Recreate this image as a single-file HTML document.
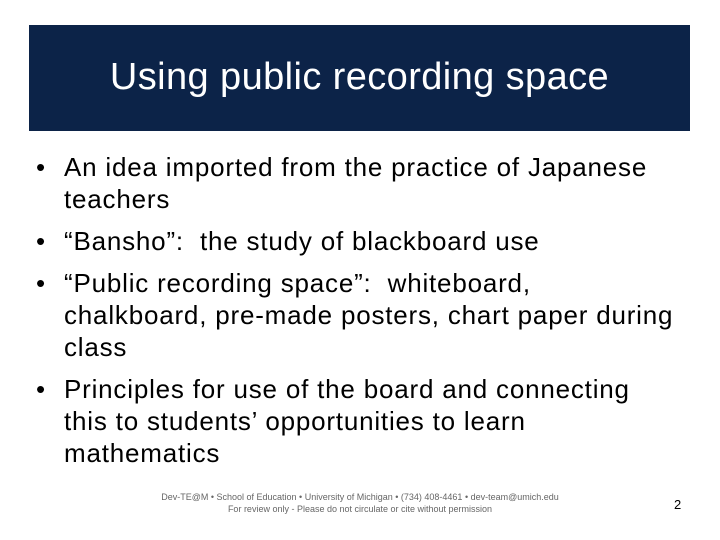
<!DOCTYPE html>
<html><head><meta charset="utf-8"><style>
body{margin:0;width:720px;height:540px;background:#fff;position:relative;overflow:hidden;font-family:"Liberation Sans",sans-serif;}
#bar{position:absolute;left:29px;top:25px;width:661px;height:106px;background:#0c2348;}
#title{position:absolute;left:29px;width:661px;top:54px;text-align:center;color:#fff;font-size:38px;letter-spacing:0.4px;line-height:46px;}
ul{position:absolute;left:36px;top:151px;margin:0;padding:0;list-style:none;width:680px;}
li{position:relative;padding-left:28px;font-size:26px;letter-spacing:0.8px;line-height:32px;margin-bottom:10px;color:#000;white-space:nowrap;}
li:before{content:"•";position:absolute;left:0;top:0;}
.foot{position:absolute;left:0;width:720px;text-align:center;font-size:9px;color:#666;}
#pn{position:absolute;left:674px;top:497px;font-size:13px;}
</style></head><body>
<div id="bar"></div>
<div id="title">Using public recording space</div>
<ul>
<li>An idea imported from the practice of Japanese<br>teachers</li>
<li>“Bansho”:&nbsp; the study of blackboard use</li>
<li>“Public recording space”:&nbsp; whiteboard,<br>chalkboard, pre-made posters, chart paper during<br>class</li>
<li>Principles for use of the board and connecting<br>this to students’ opportunities to learn<br>mathematics</li>
</ul>
<div class="foot" style="top:492px">Dev-TE@M • School of Education • University of Michigan • (734) 408-4461 • dev-team@umich.edu</div>
<div class="foot" style="top:504px">For review only - Please do not circulate or cite without permission</div>
<div id="pn">2</div>
</body></html>
